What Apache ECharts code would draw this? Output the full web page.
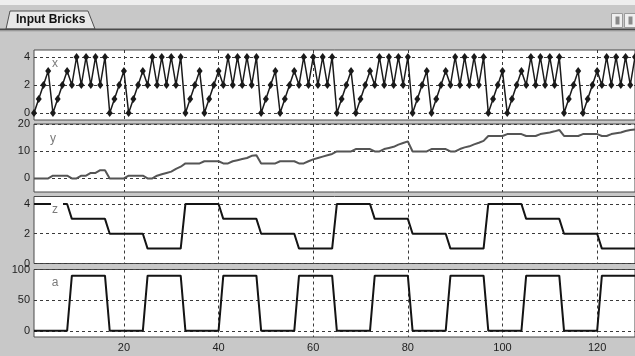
<!DOCTYPE html>
<html>
<head>
<meta charset="utf-8">
<script src="https://cdn.jsdelivr.net/npm/echarts@6/dist/echarts.min.js"></script>
<style>
    body { margin: 0; background: #c8c8c8; }
    #chart { width: 635px; height: 356px; }
</style>
</head>
<body>
<div id="chart"></div>
<script>
// sample index along the time axis
const steps = Array.from({ length: 128 }, (_, i) => i + 1);
const xTicks = [20, 40, 60, 80, 100, 120];

const xVals = [
    0,1,2,3,0,1,2,3,2,4,2,4,2,4,2,4,
    0,1,2,3,0,1,2,3,2,4,2,4,2,4,2,4,
    0,1,2,3,0,1,2,3,2,4,2,4,2,4,2,4,
    0,1,2,3,0,1,2,3,2,4,2,4,2,4,2,4,
    0,1,2,3,0,1,2,3,2,4,2,4,2,4,2,4,
    0,1,2,3,0,1,2,3,2,4,2,4,2,4,2,4,
    0,1,2,3,0,1,2,3,2,4,2,4,2,4,2,4,
    0,1,2,3,0,1,2,3,2,4,2,4,2,4,2,4
];
const yVals = [
    0,0,0,0,1,1,1,1,0,0,1,1,2,2,3,3,
    0,0,0,0,1,1,1,1,0,0,1,1.5,2,2.5,3.5,4.3,
    5.5,5.5,5.5,5.5,6.3,6.3,6.3,6.3,5.5,5.5,6.3,6.7,7.1,7.5,8.3,8.5,
    5.5,5.5,5.5,5.5,6.3,6.3,6.3,6.3,5.5,5.5,6.3,7,7.5,8,8.5,9,
    9.9,9.9,9.9,9.9,10.8,10.8,10.8,10.8,9.9,9.9,10.8,11.2,11.6,12.4,13,13.6,
    9.9,9.9,9.9,9.9,10.8,10.8,10.8,10.8,9.9,9.9,10.8,11.4,11.8,12.5,13.1,13.8,
    15.6,15.6,15.6,15.6,16.3,16.3,16.3,16.3,15.6,15.6,15.6,16.3,16.6,16.9,17.3,17.8,
    15.6,15.6,15.6,15.6,16.3,16.3,16.3,16.3,15.6,15.6,16.3,16.6,16.9,17.4,17.8,18
];
const zVals = [
    4,4,4,4,4,4,4,4,3,3,3,3,3,3,3,3,2,2,2,2,2,2,2,2,1,1,1,1,1,1,1,1,
    4,4,4,4,4,4,4,4,3,3,3,3,3,3,3,3,2,2,2,2,2,2,2,2,1,1,1,1,1,1,1,1,
    4,4,4,4,4,4,4,4,3,3,3,3,3,3,3,3,2,2,2,2,2,2,2,2,1,1,1,1,1,1,1,1,
    4,4,4,4,4,4,4,4,3,3,3,3,3,3,3,3,2,2,2,2,2,2,2,2,1,1,1,1,1,1,1,1
];
const aVals = [
    0,0,0,0,0,0,0,0,90,90,90,90,90,90,90,90,
    0,0,0,0,0,0,0,0,90,90,90,90,90,90,90,90,
    0,0,0,0,0,0,0,0,90,90,90,90,90,90,90,90,
    0,0,0,0,0,0,0,0,90,90,90,90,90,90,90,90,
    0,0,0,0,0,0,0,0,90,90,90,90,90,90,90,90,
    0,0,0,0,0,0,0,0,90,90,90,90,90,90,90,90,
    0,0,0,0,0,0,0,0,90,90,90,90,90,90,90,90,
    0,0,0,0,0,0,0,0,90,90,90,90,90,90,90,90
];

const panelNames = ['x', 'y', 'z', 'a'];
const panelTicks = [[0, 2, 4], [0, 10, 20], [0, 2, 4], [0, 50, 100]];
const panelRanges = [[-0.5, 4.5], [-5, 20], [0, 4.5], [-10, 100]];

function pairs(vals) {
    return steps.map((s, i) => [s, vals[i]]);
}

const chart = echarts.init(document.getElementById('chart'));

const gridBoxes = [
    { top: 50, height: 70 },
    { top: 124, height: 68 },
    { top: 196.5, height: 67 },
    { top: 269.5, height: 67.5 }
];
const labelPos = [[55, 64], [53, 139], [55, 210], [55, 283]];

const dashed = { color: '#3a3a3a', width: 1, type: [3, 3] };
const tickFont = { color: '#1e1e1e', fontSize: 11, fontFamily: 'Liberation Sans' };

const option = {
    animation: false,
    backgroundColor: '#c8c8c8',
    grid: gridBoxes.map(g => ({
        left: 34, right: 0, top: g.top, height: g.height,
        show: true, backgroundColor: '#ffffff', borderColor: '#4a4a4a', borderWidth: 1
    })),
    xAxis: gridBoxes.map((g, i) => ({
        type: 'value', gridIndex: i, min: 1, max: 128,
        axisLine: { show: false },
        axisTick: { show: false, customValues: xTicks },
        axisLabel: Object.assign({ show: i === 3, margin: 5, customValues: xTicks }, tickFont),
        splitLine: { show: true, lineStyle: dashed }
    })),
    yAxis: gridBoxes.map((g, i) => ({
        type: 'value', gridIndex: i,
        min: panelRanges[i][0], max: panelRanges[i][1],
        axisLine: { show: false },
        axisTick: { show: false, customValues: panelTicks[i] },
        axisLabel: Object.assign({ margin: 4, customValues: panelTicks[i] }, tickFont),
        splitLine: { show: true, lineStyle: dashed }
    })),
    series: [
        {
            name: 'x', type: 'line', xAxisIndex: 0, yAxisIndex: 0,
            data: pairs(xVals), clip: false,
            symbol: 'diamond', symbolSize: [6, 8],
            itemStyle: { color: '#1a1a1a' },
            lineStyle: { color: '#1a1a1a', width: 1.5 }
        },
        {
            name: 'y', type: 'line', xAxisIndex: 1, yAxisIndex: 1,
            data: pairs(yVals), symbol: 'none',
            lineStyle: { color: '#555555', width: 2 }
        },
        {
            name: 'z', type: 'line', xAxisIndex: 2, yAxisIndex: 2,
            data: pairs(zVals), symbol: 'none',
            lineStyle: { color: '#141414', width: 2 }
        },
        {
            name: 'a', type: 'line', xAxisIndex: 3, yAxisIndex: 3,
            data: pairs(aVals), symbol: 'none',
            lineStyle: { color: '#141414', width: 2 }
        }
    ],
    graphic: [
        // window chrome: top strip, tab and corner buttons
        { type: 'rect', z: 100, shape: { x: 0, y: 0, width: 635, height: 5 }, style: { fill: '#eeeeee' } },
        { type: 'polygon', z: 100, shape: { points: [[6, 29], [10, 11], [88, 11], [95, 29]] },
          style: { fill: '#e8e8e8', stroke: '#505050', lineWidth: 1 } },
        { type: 'text', z: 101, x: 16, y: 20,
          style: { text: 'Input Bricks', font: 'bold 12px "Liberation Sans"', fill: '#111', verticalAlign: 'middle' } },
        { type: 'line', z: 100, shape: { x1: 0, y1: 29.5, x2: 635, y2: 29.5 }, style: { stroke: '#4a4a4a', lineWidth: 2 } },
        { type: 'line', z: 100, shape: { x1: 0, y1: 31, x2: 635, y2: 31 }, style: { stroke: '#a8a8a8', lineWidth: 1 } },
        { type: 'rect', z: 100, shape: { x: 611.5, y: 13.5, width: 11, height: 14 }, style: { fill: '#efefef', stroke: '#9a9a9a' } },
        { type: 'rect', z: 101, shape: { x: 615.5, y: 16.5, width: 4, height: 8 }, style: { fill: '#8a8a8a' } },
        { type: 'rect', z: 100, shape: { x: 624.5, y: 13.5, width: 11, height: 14 }, style: { fill: '#efefef', stroke: '#9a9a9a' } },
        { type: 'rect', z: 101, shape: { x: 628.5, y: 16.5, width: 4, height: 8 }, style: { fill: '#8a8a8a' } },
        // white patch behind the "z" panel label
        { type: 'rect', z: 100, shape: { x: 51, y: 199, width: 12, height: 14 }, style: { fill: '#ffffff' } }
    ].concat(panelNames.map((n, i) => ({
        type: 'text', z: 102, x: labelPos[i][0], y: labelPos[i][1],
        style: { text: n, font: '12px "Liberation Sans"', fill: '#7a7a7a', align: 'center', verticalAlign: 'middle' }
    })))
};

chart.setOption(option);
</script>
</body>
</html>
